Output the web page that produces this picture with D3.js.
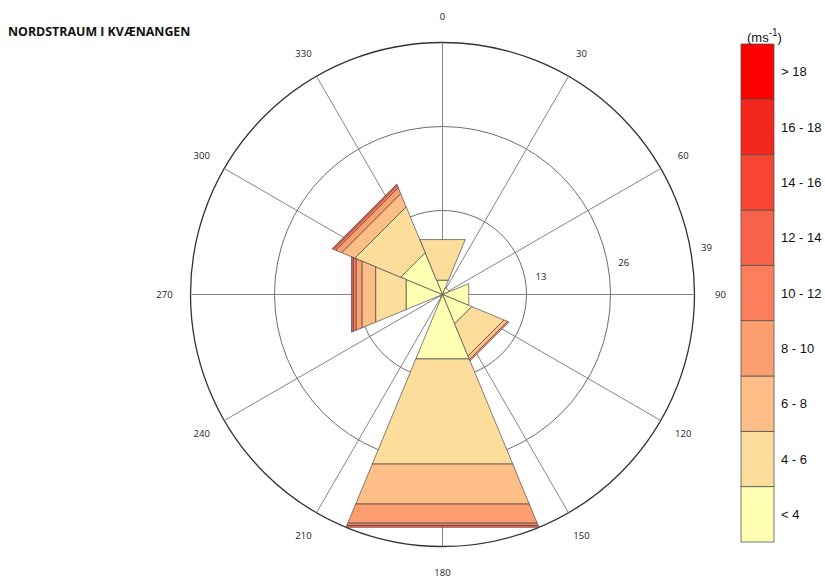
<!DOCTYPE html>
<html>
<head>
<meta charset="utf-8">
<script src="https://cdn.jsdelivr.net/npm/d3@7"></script>
<style>
  body { margin: 0; background: #fff; }
  svg { display: block; }
  .angleLabel { font-family: "Open Sans", sans-serif; font-size: 9.5px; fill: #222; }
  .ringLabel { font-family: "Open Sans", sans-serif; font-size: 9.5px; fill: #222; }
  .legendLabel { font-family: "Liberation Sans", Arial, sans-serif; font-size: 13px; fill: #111; }
</style>
</head>
<body>
<div id="graphic"></div>
<script>
// wind directions (sector centres, degrees) and speed classes
var directions = [0, 45, 90, 135, 180, 225, 270, 315];
var speedBins = ["< 4", "4 - 6", "6 - 8", "8 - 10", "10 - 12", "12 - 14", "14 - 16", "16 - 18", "> 18"];
var binColours = ["#ffffb4", "#fcdd9c", "#fdbe88", "#fc9e6e", "#fb7f5d", "#f9624a", "#f74532", "#f2281e", "#ff0000"];

// frequency (%) per direction for each speed class
var lt4    = [2.4, 1.2, 4.4, 4.9, 10.8, 0.5, 6.1, 7.0];
var s4_6   = [6.8, 0,   0,   5.4, 17.6, 0,   5.1, 7.7];
var s6_8   = [0,   0,   0,   0.6, 6.7,  0,   2.3, 2.2];
var s8_10  = [0,   0,   0,   0.25, 3.2, 0,   1.0, 1.0];
var s10_12 = [0,   0,   0,   0,   0.4,  0,   0.45, 0.4];
var s12_14 = [0,   0,   0,   0,   0.3,  0,   0.3, 0.2];
var s14_16 = [0,   0,   0,   0,   0,    0,   0,   0];
var s16_18 = [0,   0,   0,   0,   0,    0,   0,   0];
var gt18   = [0,   0,   0,   0,   0,    0,   0,   0];

var ringTicks = [13, 26, 39];
var angleTicks = d3.range(0, 360, 30);
var title = "NORDSTRAUM I KVÆNANGEN";

var seriesValues = [lt4, s4_6, s6_8, s8_10, s10_12, s12_14, s14_16, s16_18, gt18];

function drawGraphic() {
  var width = 825, height = 581;
  var cx = 442.5, cy = 294.5;
  var outer = 252;
  var sectorHalf = 22.5;

  // build table rows: one per direction
  var table = directions.map(function(d, i) {
    var row = { dir: d };
    speedBins.forEach(function(b, j) { row[b] = seriesValues[j][i]; });
    return row;
  });
  var stacked = d3.stack().keys(speedBins)(table);

  var r = d3.scaleLinear().domain([0, 39]).range([0, outer]);
  var colour = d3.scaleOrdinal().domain(speedBins).range(binColours);
  var rad = function(deg) { return deg * Math.PI / 180; };

  var svg = d3.select("#graphic").append("svg")
    .attr("width", width)
    .attr("height", height)
    .style("background-color", "#fff");

  // title
  svg.append("text")
    .attr("x", 8)
    .attr("y", 36)
    .style("font-family", "'Open Sans', sans-serif")
    .style("font-weight", "bold")
    .style("font-size", "12.4px")
    .attr("fill", "#111")
    .text(title);

  var g = svg.append("g").attr("transform", "translate(" + cx + "," + cy + ")");

  // rings
  g.selectAll("circle.ring")
    .data(ringTicks)
    .join("circle")
    .attr("class", "ring")
    .attr("r", d => r(d))
    .attr("fill", "none")
    .attr("stroke", (d, i) => i == ringTicks.length - 1 ? "#333" : "#6e6e6e")
    .attr("stroke-width", (d, i) => i == ringTicks.length - 1 ? 1.3 : 1);

  // spokes
  g.selectAll("line.spoke")
    .data(angleTicks)
    .join("line")
    .attr("class", "spoke")
    .attr("x1", 0).attr("y1", 0)
    .attr("x2", d => d3.pointRadial(rad(d), outer)[0])
    .attr("y2", d => d3.pointRadial(rad(d), outer)[1])
    .attr("stroke", "#777")
    .attr("stroke-width", 0.9);

  // angle labels
  g.selectAll("text.angleLabel")
    .data(angleTicks)
    .join("text")
    .attr("class", "angleLabel")
    .attr("x", d => d3.pointRadial(rad(d), outer + 26)[0])
    .attr("y", d => d3.pointRadial(rad(d), outer + 26)[1])
    .attr("text-anchor", "middle")
    .attr("dy", "0.35em")
    .text(d => d);

  // wedges, one band per speed class
  var bands = g.selectAll("g.band")
    .data(stacked)
    .join("g")
    .attr("class", "band")
    .attr("fill", d => colour(d.key));

  bands.selectAll("path")
    .data(d => d.filter(p => p[1] - p[0] > 0))
    .join("path")
    .attr("d", function(p) {
      var a1 = rad(p.data.dir - sectorHalf), a2 = rad(p.data.dir + sectorHalf);
      var pts = [
        d3.pointRadial(a1, r(p[0])),
        d3.pointRadial(a1, r(p[1])),
        d3.pointRadial(a2, r(p[1])),
        d3.pointRadial(a2, r(p[0]))
      ];
      return "M" + pts.join("L") + "Z";
    })
    .attr("stroke", "#404040")
    .attr("stroke-width", 0.65)
    .attr("stroke-linejoin", "round");

  // ring labels
  g.selectAll("text.ringLabel")
    .data(ringTicks)
    .join("text")
    .attr("class", "ringLabel")
    .attr("x", d => d3.pointRadial(rad(80), r(d) + 16)[0])
    .attr("y", d => d3.pointRadial(rad(80), r(d) + 16)[1])
    .attr("text-anchor", "middle")
    .attr("dy", "0.35em")
    .text(d => d);

  // legend
  var legendY = d3.scaleBand()
    .domain(speedBins.slice().reverse())
    .range([44, 542]);

  var legend = svg.append("g").attr("class", "legend");

  legend.selectAll("rect")
    .data(speedBins)
    .join("rect")
    .attr("x", 741)
    .attr("y", d => legendY(d))
    .attr("width", 33)
    .attr("height", legendY.bandwidth())
    .attr("fill", d => colour(d))
    .attr("stroke", "#555")
    .attr("stroke-width", 0.8);

  legend.selectAll("text.legendLabel")
    .data(speedBins)
    .join("text")
    .attr("class", "legendLabel")
    .attr("x", 781)
    .attr("y", d => legendY(d) + legendY.bandwidth() / 2)
    .attr("dy", "0.35em")
    .text(d => d);

  var unit = legend.append("text")
    .attr("class", "legendLabel")
    .attr("x", 747)
    .attr("y", 42);
  unit.append("tspan").text("(ms");
  unit.append("tspan").attr("dy", -6).style("font-size", "10px").text("-1");
  unit.append("tspan").attr("dy", 6).text(")");
}

drawGraphic();
</script>
</body>
</html>
